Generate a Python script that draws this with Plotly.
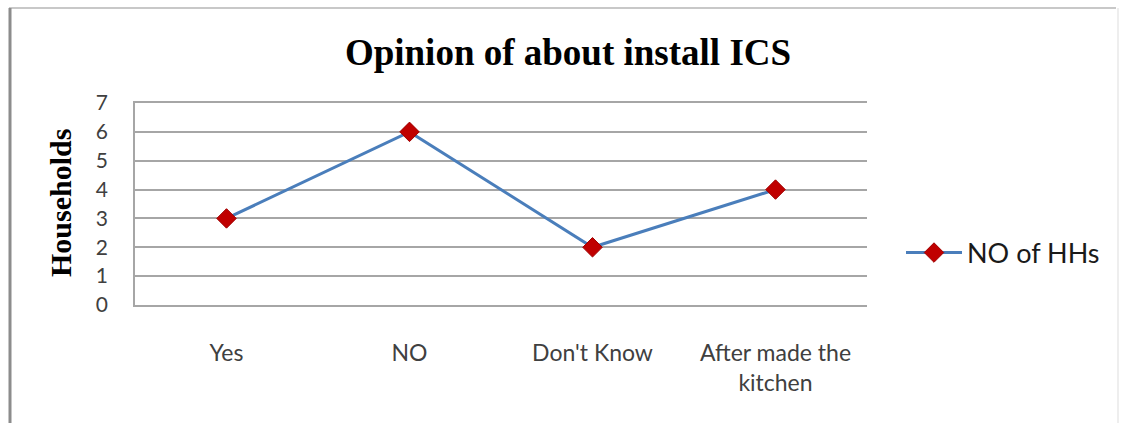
import plotly.graph_objects as go

# Survey responses: opinion about installing improved cook stoves (ICS)
categories = ["Yes", "NO", "Don't Know", "After made the<br>kitchen"]
households = [3, 6, 2, 4]
series_name = "NO of HHs"
y_ticks = [0, 1, 2, 3, 4, 5, 6, 7]

W, H = 1128, 423
L, R, T, B = 135, 867, 103, 305  # plot-area pixel box


def px_x(p):
    return (p - L) / (R - L)


def px_y(p):
    return (B - p) / (B - T)


fig = go.Figure()
fig.add_trace(go.Scatter(
    x=categories, y=households, name=series_name,
    mode="lines+markers",
    line=dict(color="#4A7EBB", width=3),
    marker=dict(symbol="diamond", size=15, color="#C00000",
                line=dict(color="#A00000", width=1)),
))

sans = "Lato, 'Open Sans', sans-serif"
serif = "'Liberation Serif', 'Times New Roman', serif"
x_tick_font = dict(family=sans, size=23, color="#404040")
y_tick_font = dict(family=sans, size=21, color="#404040")

fig.update_layout(
    width=W, height=H,
    margin=dict(l=L, r=W - R, t=T, b=H - B),
    paper_bgcolor="white", plot_bgcolor="white",
    title=dict(text="<b>Opinion of about install ICS</b>",
               font=dict(family=serif, size=37, color="#000000"),
               x=568 / W, xanchor="center", xref="container",
               y=1 - 52 / H, yanchor="middle", yref="container"),
    showlegend=True,
    legend=dict(x=px_x(901), y=px_y(253), xanchor="left", yanchor="middle",
                font=dict(family=sans, size=27, color="#1A1A1A"),
                bgcolor="rgba(0,0,0,0)", itemwidth=56),
    xaxis=dict(type="category", range=[-0.5, 3.5], showgrid=False,
               showline=True, mirror=True, linecolor="#A6A6A6", linewidth=1.5,
               zeroline=False, ticks="", tickfont=x_tick_font,
               ticklabelstandoff=27),
    yaxis=dict(range=[0, 7], tickvals=y_ticks, showgrid=True,
               gridcolor="#A6A6A6", gridwidth=1.5, zeroline=False,
               showline=True, linecolor="#A6A6A6", linewidth=1.5,
               ticks="", tickfont=y_tick_font, ticklabelstandoff=21),
)

# Y-axis title
fig.add_annotation(text="<b>Households</b>", textangle=-90,
                   x=px_x(60), y=px_y(203), xref="paper", yref="paper",
                   xanchor="center", yanchor="middle",
                   showarrow=False,
                   font=dict(family=serif, size=30, color="#000000"))

# Chart frame: thin top edge, heavier left edge, faint right edge
fig.add_shape(type="line", xref="paper", yref="paper",
              x0=px_x(9), x1=px_x(1116), y0=px_y(8), y1=px_y(8),
              line=dict(color="#C8C8C8", width=2))
fig.add_shape(type="line", xref="paper", yref="paper",
              x0=px_x(10), x1=px_x(10), y0=px_y(8), y1=px_y(H),
              line=dict(color="#8C8C8C", width=3))
fig.add_shape(type="line", xref="paper", yref="paper",
              x0=px_x(1118), x1=px_x(1118), y0=px_y(8), y1=px_y(H),
              line=dict(color="#EEEEEE", width=2))

fig.write_html("out.html")
